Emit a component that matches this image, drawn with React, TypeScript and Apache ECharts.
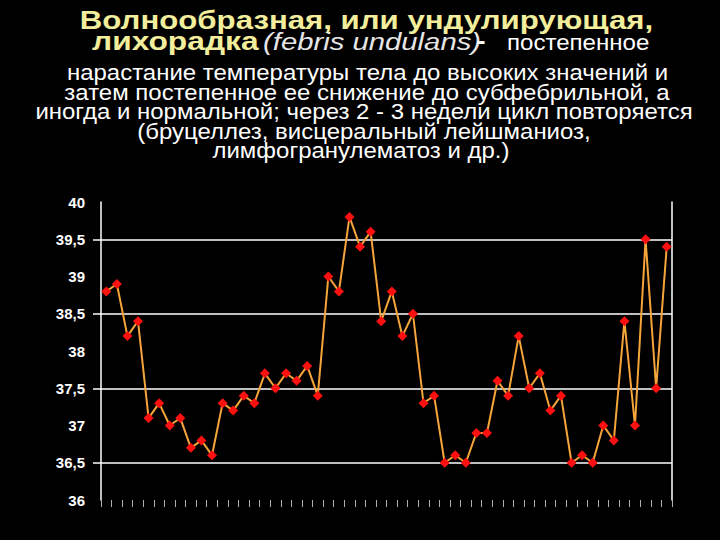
import React, { useEffect, useRef } from "react";
import * as echarts from "echarts";

const days = Array.from({ length: 54 }, (_, i) => String(i + 1));
const temperature = [
  38.8, 38.9, 38.2, 38.4, 37.1, 37.3, 37.0, 37.1, 36.7, 36.8,
  36.6, 37.3, 37.2, 37.4, 37.3, 37.7, 37.5, 37.7, 37.6, 37.8,
  37.4, 39.0, 38.8, 39.8, 39.4, 39.6, 38.4, 38.8, 38.2, 38.5,
  37.3, 37.4, 36.5, 36.6, 36.5, 36.9, 36.9, 37.6, 37.4, 38.2,
  37.5, 37.7, 37.2, 37.4, 36.5, 36.6, 36.5, 37.0, 36.8, 38.4,
  37.0, 39.5, 37.5, 39.4,
];
const gridLevels = ["36", "36,5", "37", "37,5", "38", "38,5", "39", "39,5", "40"];
const titleLine1 = "Волнообразная, или ундулирующая,";
const titleLine2Bold = "лихорадка";
const titleLine2Latin = "(febris undulans)";
const titleLine2Rest = "постепенное";
const titleLines = [
  "нарастание температуры тела до высоких значений и",
  "затем постепенное ее снижение до субфебрильной, а",
  "иногда и нормальной; через 2 - 3 недели цикл повторяется",
  "(бруцеллез, висцеральный лейшманиоз,",
  "лимфогранулематоз и др.)",
];

export default function App() {
  const ref = useRef<HTMLDivElement>(null);
  useEffect(() => {
    const chart = echarts.init(ref.current!, null, { renderer: "svg" });
    const font = "Arial, 'Liberation Sans', sans-serif";
    const yellow = "#f2ee9c";
    const lineCenters = [367.5, 367, 364, 364, 361];
    const halfOnly = (i: number) => i % 2 === 1;
    chart.setOption({
      animation: false,
      backgroundColor: "#000000",
      graphic: [
        {
          type: "text",
          x: 366.5,
          y: 20,
          scaleX: 1.2,
          style: {
            text: titleLine1,
            fill: yellow,
            font: `bold 26px ${font}`,
            align: "center",
            verticalAlign: "middle",
          },
        },
        {
          type: "text",
          x: 92,
          y: 41,
          scaleX: 1.22,
          style: {
            text: titleLine2Bold,
            fill: yellow,
            font: `bold 26px ${font}`,
            align: "left",
            verticalAlign: "middle",
          },
        },
        {
          type: "text",
          x: 263,
          y: 41.6,
          scaleX: 1.22,
          style: {
            text: titleLine2Latin,
            fill: "#e6e6e6",
            font: `italic 24px ${font}`,
            align: "left",
            verticalAlign: "middle",
          },
        },
        {
          type: "text",
          x: 476,
          y: 41,
          scaleX: 1.2,
          style: {
            text: "-",
            fill: "#ffffff",
            font: `bold 24px ${font}`,
            align: "left",
            verticalAlign: "middle",
          },
        },
        {
          type: "text",
          x: 507,
          y: 42.3,
          scaleX: 1.095,
          style: {
            text: titleLine2Rest,
            fill: "#ffffff",
            font: `22px ${font}`,
            align: "left",
            verticalAlign: "middle",
          },
        },
        ...titleLines.map((t, i) => ({
          type: "text",
          x: lineCenters[i],
          y: 72.3 + i * 19.6,
          scaleX: 1.09,
          style: {
            text: t,
            fill: "#ffffff",
            font: `22px ${font}`,
            align: "center",
            verticalAlign: "middle",
          },
        })),
      ],
      grid: { left: 101, right: 48, top: 202, bottom: 40 },
      xAxis: {
        type: "category",
        data: days,
        boundaryGap: true,
        axisLine: { show: false },
        axisTick: {
          show: true,
          interval: 0,
          length: 7,
          lineStyle: { color: "#b0b0b0", width: 1 },
        },
        axisLabel: { show: false },
      },
      yAxis: [
        {
          type: "value",
          position: "left",
          min: 36,
          max: 40,
          interval: 0.5,
          axisLine: { show: true, lineStyle: { color: "#ffffff", width: 1.5 } },
          axisTick: { show: false },
          axisLabel: {
            color: "#ffffff",
            fontSize: 15,
            fontWeight: "bold",
            fontFamily: font,
            margin: 16,
            formatter: (v: number) => String(v).replace(".", ","),
          },
          splitLine: { show: false },
        },
        {
          type: "category",
          position: "left",
          data: gridLevels,
          boundaryGap: false,
          axisLine: { show: false },
          axisLabel: { show: false },
          axisTick: {
            show: true,
            interval: halfOnly,
            length: 8,
            lineStyle: { color: "#ffffff", width: 1.5 },
          },
          splitLine: {
            show: true,
            interval: halfOnly,
            lineStyle: { color: "#ffffff", width: 1.5 },
          },
        },
        {
          type: "value",
          position: "right",
          min: 36,
          max: 40,
          interval: 0.5,
          axisLine: { show: true, lineStyle: { color: "#ffffff", width: 1.5 } },
          axisTick: { show: false },
          axisLabel: { show: false },
          splitLine: { show: false },
        },
      ],
      series: [
        {
          type: "line",
          data: temperature,
          yAxisIndex: 0,
          symbol: "diamond",
          symbolSize: 10,
          showSymbol: true,
          showAllSymbol: true,
          itemStyle: { color: "#ff1010" },
          lineStyle: { color: "#f5a53a", width: 2 },
          z: 5,
        },
      ],
    });
    return () => chart.dispose();
  }, []);
  return <div ref={ref} style={{ width: 720, height: 540, position: "fixed", left: 0, top: 0 }} />;
}
